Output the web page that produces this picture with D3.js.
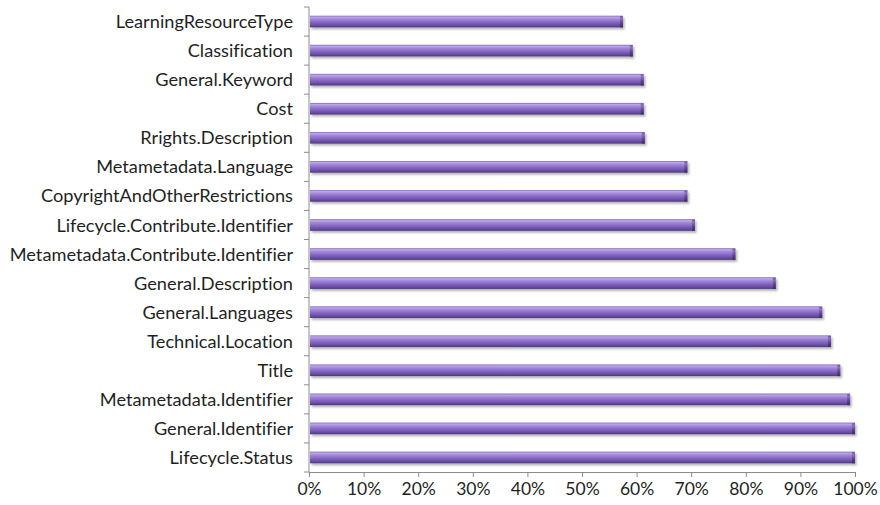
<!DOCTYPE html>
<html>
<head>
<meta charset="utf-8">
<script src="https://cdn.jsdelivr.net/npm/d3@7/dist/d3.min.js"></script>
<style>
  html, body { margin: 0; padding: 0; background: #fff; }
  svg { display: block; }
  text { font-family: Lato, "Open Sans", sans-serif; fill: #1f1f1f; font-variant-ligatures: none; }
</style>
</head>
<body>
<svg id="chart" width="880" height="505"></svg>
<script>
const categories = [
  "LearningResourceType",
  "Classification",
  "General.Keyword",
  "Cost",
  "Rrights.Description",
  "Metametadata.Language",
  "CopyrightAndOtherRestrictions",
  "Lifecycle.Contribute.Identifier",
  "Metametadata.Contribute.Identifier",
  "General.Description",
  "General.Languages",
  "Technical.Location",
  "Title",
  "Metametadata.Identifier",
  "General.Identifier",
  "Lifecycle.Status"
];
const values = [0.575, 0.593, 0.613, 0.613, 0.615, 0.693, 0.693, 0.707, 0.781, 0.855, 0.94, 0.956, 0.973, 0.991, 1.0, 1.0];
const xTicks = [0, 0.1, 0.2, 0.3, 0.4, 0.5, 0.6, 0.7, 0.8, 0.9, 1.0];

const svg = d3.select("#chart");
const mLeft = 309, mRight = 855, mTop = 7, mBottom = 472;

const x = d3.scaleLinear().domain([0, 1]).range([mLeft, mRight]);
const y = d3.scaleBand().domain(categories).range([mTop, mBottom]).paddingInner(0.6).paddingOuter(0.3);

const defs = svg.append("defs");
const g = defs.append("linearGradient").attr("id", "barGrad").attr("x1", 0).attr("y1", 0).attr("x2", 0).attr("y2", 1);
[["0%", "#7d62b6"], ["12%", "#bca8e6"], ["32%", "#9f85d6"], ["58%", "#8565c2"], ["85%", "#654ba0"], ["100%", "#4a3679"]]
  .forEach(([o, c]) => g.append("stop").attr("offset", o).attr("stop-color", c));
const gEnd = defs.append("linearGradient").attr("id", "endGrad").attr("x1", 0).attr("y1", 0).attr("x2", 0).attr("y2", 1);
[["0%", "#6a52a0"], ["20%", "#8c74c4"], ["60%", "#5d448f"], ["100%", "#3c2a66"]]
  .forEach(([o, c]) => gEnd.append("stop").attr("offset", o).attr("stop-color", c));
const f = defs.append("filter").attr("id", "shadow").attr("x", "-5%").attr("y", "-50%").attr("width", "110%").attr("height", "220%");
f.append("feDropShadow").attr("dx", 1.5).attr("dy", 2).attr("stdDeviation", 1.2).attr("flood-color", "#000").attr("flood-opacity", 0.3);

// bars
const bars = svg.append("g").selectAll("g").data(categories).join("g").attr("filter", "url(#shadow)");
bars.append("rect")
  .attr("x", x(0) + 1)
  .attr("y", d => y(d))
  .attr("width", (d, i) => x(values[i]) - x(0) - 1)
  .attr("height", y.bandwidth())
  .attr("fill", "url(#barGrad)");
bars.append("rect")
  .attr("x", (d, i) => x(values[i]) - 3)
  .attr("y", d => y(d) + 0.5)
  .attr("width", 3)
  .attr("height", y.bandwidth() - 0.5)
  .attr("fill", "url(#endGrad)");

// y axis line + boundary ticks
const axisColor = "#8c8c8c";
const yAxis = svg.append("g");
yAxis.append("line").attr("x1", mLeft).attr("x2", mLeft).attr("y1", mTop).attr("y2", mBottom)
  .attr("stroke", axisColor).attr("stroke-width", 1);
const boundaries = categories.map(c => y(c) - y.step() * y.paddingInner() / 2).concat([mBottom]);
yAxis.selectAll("line.tk").data(boundaries).join("line").attr("class", "tk")
  .attr("x1", mLeft - 5).attr("x2", mLeft).attr("y1", d => d).attr("y2", d => d)
  .attr("stroke", axisColor).attr("stroke-width", 1);
yAxis.selectAll("text").data(categories).join("text")
  .attr("x", mLeft - 16)
  .attr("y", d => y(d) + y.bandwidth() / 2)
  .attr("dy", "0.36em")
  .attr("text-anchor", "end")
  .attr("font-size", 18.2)
  .text(d => d);

// x axis
const xAxis = svg.append("g").attr("transform", `translate(0,${mBottom})`)
  .call(d3.axisBottom(x).tickValues(xTicks).tickFormat(d3.format(".0%")).tickSize(5).tickSizeOuter(0));
xAxis.select(".domain").attr("stroke", axisColor);
xAxis.selectAll(".tick line").attr("stroke", axisColor);
xAxis.selectAll(".tick text").attr("font-size", 17.5).attr("font-family", "Lato, 'Open Sans', sans-serif")
  .attr("fill", "#1f1f1f").attr("y", 11);
</script>
</body>
</html>
